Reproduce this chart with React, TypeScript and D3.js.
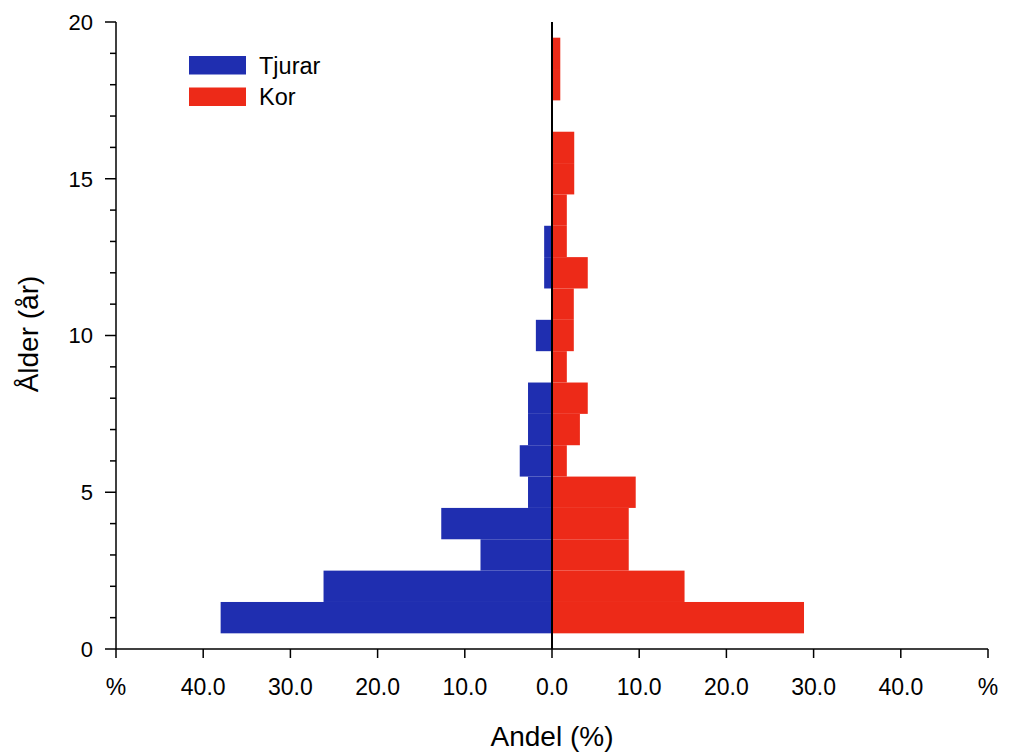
import React from "react";
import * as d3 from "d3";

const ages = [1, 2, 3, 4, 5, 6, 7, 8, 9, 10, 11, 12, 13, 14, 15, 16, 17, 18, 19];
const tjurar = [38.0, 26.2, 8.2, 12.7, 2.75, 3.7, 2.75, 2.75, 0, 1.85, 0, 0.9, 0.9, 0, 0, 0, 0, 0, 0];
const kor = [28.9, 15.2, 8.8, 8.8, 9.6, 1.7, 3.2, 4.1, 1.7, 2.5, 2.5, 4.1, 1.7, 1.7, 2.55, 2.55, 0, 0.95, 0.95];
const xTicks = [-50, -40, -30, -20, -10, 0, 10, 20, 30, 40, 50];
const xTickLabels = ["%", "40.0", "30.0", "20.0", "10.0", "0.0", "10.0", "20.0", "30.0", "40.0", "%"];
const yMajor = [0, 5, 10, 15, 20];
const yMinor = d3.range(0, 21);
const seriesNames = ["Tjurar", "Kor"];
const colors = ["#1f2eb0", "#ed2a18"];

export default function App() {
  const W = 1010, H = 754;
  const x = d3.scaleLinear().domain([-50, 50]).range([116, 988]);
  const y = d3.scaleLinear().domain([0, 20]).range([649, 22]);
  const font = "Arial, 'Liberation Sans', sans-serif";
  return (
    <svg width={W} height={H} style={{ position: "absolute", left: 0, top: 0, background: "#fff" }} fontFamily={font}>
      {ages.map((a, i) => tjurar[i] > 0 ? (
        <rect key={"t" + a} x={x(-tjurar[i])} y={y(a + 0.5)} width={x(0) - x(-tjurar[i])} height={y(a - 0.5) - y(a + 0.5)} fill={colors[0]} />
      ) : null)}
      {ages.map((a, i) => kor[i] > 0 ? (
        <rect key={"k" + a} x={x(0)} y={y(a + 0.5)} width={x(kor[i]) - x(0)} height={y(a - 0.5) - y(a + 0.5)} fill={colors[1]} />
      ) : null)}
      {/* zero line */}
      <line x1={x(0)} x2={x(0)} y1={y(20)} y2={y(0)} stroke="#000" strokeWidth={2} />
      {/* y axis */}
      <line x1={116} x2={116} y1={y(20)} y2={y(0)} stroke="#000" strokeWidth={1.5} />
      {yMinor.map(v => (
        <line key={"ym" + v} x1={yMajor.includes(v) ? 105 : 110} x2={116} y1={y(v)} y2={y(v)} stroke="#000" strokeWidth={1.5} />
      ))}
      {yMajor.map(v => (
        <text key={"yl" + v} x={93} y={y(v)} dy="0.36em" textAnchor="end" fontSize={22} fill="#000">{v}</text>
      ))}
      {/* x axis */}
      <line x1={x(-50)} x2={x(50)} y1={y(0)} y2={y(0)} stroke="#000" strokeWidth={1.5} />
      {xTicks.map((v, i) => (
        <g key={"xt" + v}>
          <line x1={x(v)} x2={x(v)} y1={y(0)} y2={y(0) + 9} stroke="#000" strokeWidth={1.5} />
          <text x={x(v)} y={695} textAnchor="middle" fontSize={23} fill="#000">{xTickLabels[i]}</text>
        </g>
      ))}
      <text x={x(0)} y={746} textAnchor="middle" fontSize={28} fill="#000">Andel (%)</text>
      <text transform={`translate(38,334) rotate(-90)`} textAnchor="middle" fontSize={28} fill="#000">Ålder (år)</text>
      {/* legend */}
      {seriesNames.map((n, i) => (
        <g key={n}>
          <rect x={189} y={56 + i * 31.5} width={57} height={18.5} fill={colors[i]} />
          <text x={259} y={74 + i * 31} fontSize={23.5} fill="#000">{n}</text>
        </g>
      ))}
    </svg>
  );
}
